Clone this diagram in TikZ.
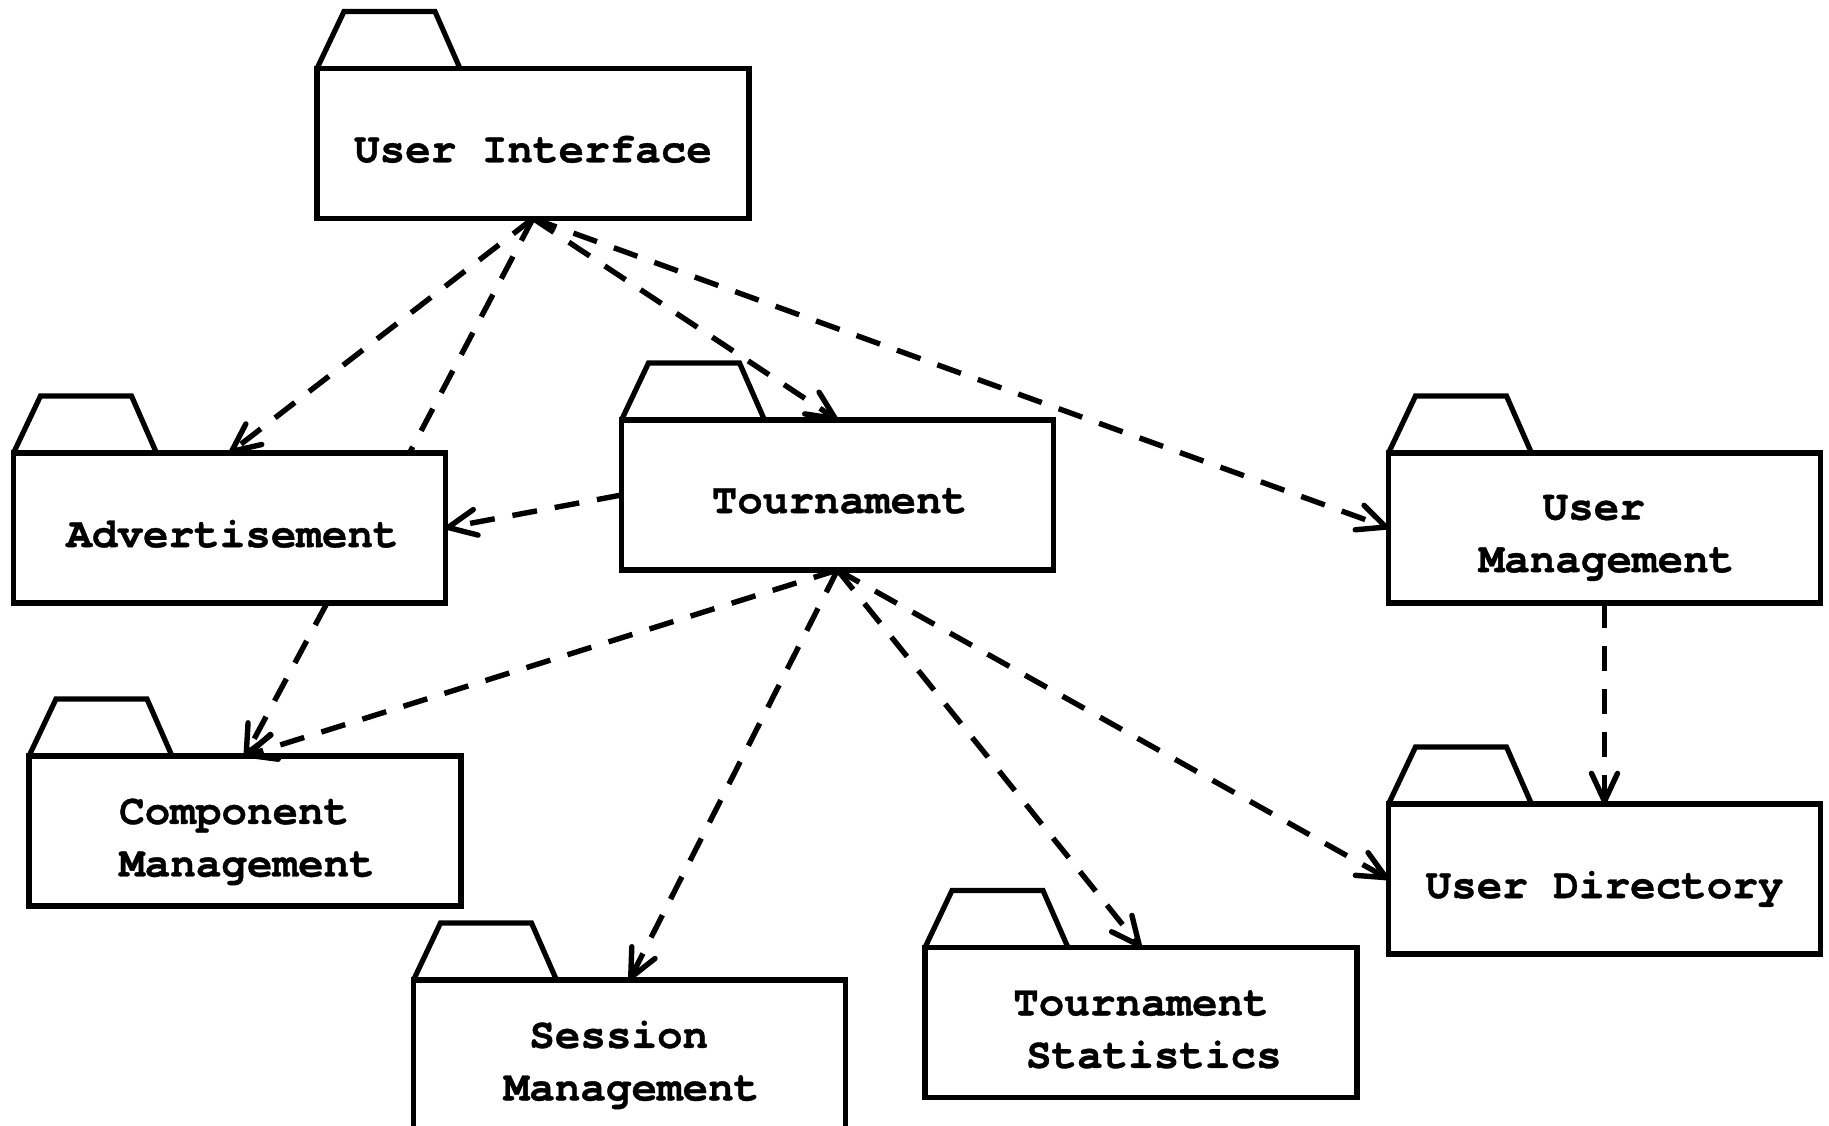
\documentclass[tikz,border=0pt]{standalone}
\usepackage{fontspec}
\newfontfamily\pkgfont{texgyrecursor}[Extension=.otf, UprightFont=*-regular, BoldFont=*-bold, BoldFeatures={FakeBold=0.8}]
\usetikzlibrary{arrows.meta}
\begin{document}
\begin{tikzpicture}[x=1pt,y=-1pt,
  pkg/.style={draw, line width=5.2pt, outer sep=0pt, inner sep=0pt,
    minimum width=432pt, minimum height=150pt},
  txt/.style={inner sep=0pt, align=center, text depth=9pt,
    font=\pkgfont\bfseries\fontsize{42.6}{52.5}\selectfont},
  tabline/.style={draw, line width=5.2pt},
  link/.style={line width=5.4pt, dash pattern=on 25pt off 18pt},
  dep/.style={link, -{Straight Barb[length=28pt,width=26pt,line width=5.4pt,round]}}]

\useasboundingbox (0,0) rectangle (1829,1126);
\fill[white] (0,0) rectangle (1829,1126);

\node[pkg] (ui)  at (533,143.5)  {};
\node[pkg] (adv) at (229.5,528)  {};
\node[pkg] (tour) at (837.5,495) {};
\node[pkg] (um)  at (1604.5,528) {};
\node[pkg] (cm)  at (245,831)    {};
\node[pkg] (sm)  at (629.5,1055) {};
\node[pkg] (ts)  at (1141,1022.5) {};
\node[pkg] (ud)  at (1604.5,879) {};

\node[txt] (uit)  at ([yshift=-10pt]ui.center)   {User Interface};
\node[txt] (advt) at ([xshift=3pt,yshift=-10pt]adv.center)  {Advertisement};
\node[txt] (tourt) at ([xshift=2pt,yshift=-10pt]tour.center) {Tournament};
\node[txt] (umt)  at ([xshift=2pt,yshift=-10pt]um.center)   {User\phantom{x}\\Management};
\node[txt] (cmt)  at ([xshift=2pt,yshift=-11pt]cm.center)   {Component\phantom{x}\\Management};
\node[txt] (smt)  at ([xshift=2pt,yshift=-10pt]sm.center)   {Session\phantom{x}\\Management};
\node[txt] (tst)  at ([yshift=-11pt]ts.center)   {Tournament\\\phantom{x}Statistics};
\node[txt] (udt)  at ([yshift=-10pt]ud.center)   {User Directory};

\foreach \n in {ui,adv,tour,um,cm,sm,ts,ud}
  \draw[tabline] (\n.north west) -- ++(27,-57) -- ++(91,0) -- ++(25,57);

% connectors
\draw[dep]  (ui.south) -- (adv.north);
\draw[link] (ui.south) -- ([xshift=-36pt]adv.north east);
\draw[dep]  (ui.south) -- (tour.north);
\draw[dep]  (ui.south) -- (um.west);
\draw[dep]  (tour.west) -- (adv.east);
\draw[dep]  ([xshift=97.5pt]adv.south) -- (cm.north);
\draw[dep]  (tour.south) -- (cm.north);
\draw[dep]  (tour.south) -- (sm.north);
\draw[dep]  (tour.south) -- (ts.north);
\draw[dep]  (tour.south) -- (ud.west);
\draw[dep]  (um.south) -- (ud.north);
\end{tikzpicture}
\end{document}
